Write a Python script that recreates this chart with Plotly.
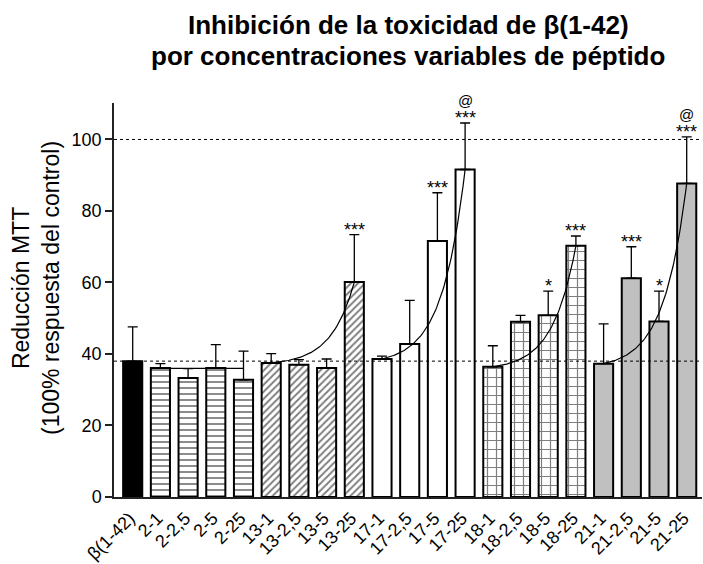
import numpy as np
import plotly.graph_objects as go

# ---------------- data ----------------
categories = ["β(1-42)", "2-1", "2-2,5", "2-5", "2-25",
              "13-1", "13-2,5", "13-5", "13-25",
              "17-1", "17-2,5", "17-5", "17-25",
              "18-1", "18-2,5", "18-5", "18-25",
              "21-1", "21-2,5", "21-5", "21-25"]
means = [38.0, 36.1, 33.3, 36.1, 32.8,
         37.5, 37.0, 36.1, 60.1,
         38.6, 42.8, 71.6, 91.6,
         36.4, 49.0, 50.8, 70.3,
         37.3, 61.2, 49.1, 87.7]
sd = [9.6, 1.2, 2.6, 6.5, 8.0,
      2.6, 1.4, 2.5, 13.3,
      0.8, 12.2, 13.5, 13.0,
      5.9, 1.8, 6.8, 2.7,
      11.1, 8.8, 8.5, 13.0]
sig_stars = ["", "", "", "", "",
             "", "", "", "***",
             "", "", "***", "***",
             "", "", "*", "***",
             "", "***", "*", "***"]
sig_at = ["", "", "", "", "",
          "", "", "", "",
          "", "", "", "@",
          "", "", "", "",
          "", "", "", "@"]
# groups: (name, first index, last index)
groups = [("β", 0, 0), ("2", 1, 4), ("13", 5, 8), ("17", 9, 12), ("18", 13, 16), ("21", 17, 20)]
# fitted trend curves per peptide group: start value, end value
fit_groups = ["2", "13", "17", "18", "21"]
fit_start = [36.0, 37.5, 38.6, 36.4, 37.3]
fit_end = [36.0, 60.1, 91.6, 70.3, 87.7]
ref_lines = [100, 38.0]
y_ticks = [0, 20, 40, 60, 80, 100]

# ---------------- styles ----------------
FONT = "Liberation Sans, Arial, Helvetica, sans-serif"
styles = {
    "β": dict(color="black", pattern=dict(shape="")),
    "2": dict(color="white", pattern=dict(shape="-", size=6, solidity=0.3, fgcolor="black", bgcolor="white", fillmode="overlay")),
    "13": dict(color="white", pattern=dict(shape="/", size=5, solidity=0.4, fgcolor="black", bgcolor="white", fillmode="overlay")),
    "17": dict(color="white", pattern=dict(shape="")),
    "18": dict(color="white", pattern=dict(shape="+", size=9, solidity=0.25, fgcolor="black", bgcolor="white", fillmode="overlay")),
    "21": dict(color="#c0c0c0", pattern=dict(shape="")),
}

fig = go.Figure()
xpos = list(range(len(categories)))

for name, a, b in groups:
    idx = list(range(a, b + 1))
    st = styles[name]
    fig.add_trace(go.Bar(
        x=[xpos[i] for i in idx],
        y=[means[i] for i in idx],
        width=0.69,
        marker=dict(color=st["color"], pattern=st["pattern"],
                    line=dict(color="black", width=2)),
        error_y=dict(type="data", symmetric=False,
                     array=[sd[i] for i in idx],
                     arrayminus=[0] * len(idx),
                     color="black", thickness=1.3, width=5),
        showlegend=False, hoverinfo="skip",
    ))

# trend curves
k = 1.2
for gname, y0, y1 in zip(fit_groups, fit_start, fit_end):
    a, b = [(g[1], g[2]) for g in groups if g[0] == gname][0]
    t = np.linspace(0, b - a, 80)
    frac = (np.exp(k * t) - 1) / (np.exp(k * (b - a)) - 1)
    fig.add_trace(go.Scatter(
        x=a + t, y=y0 + (y1 - y0) * frac, mode="lines",
        line=dict(color="black", width=1.2),
        showlegend=False, hoverinfo="skip",
    ))

# reference dotted lines
for yv in ref_lines:
    fig.add_shape(type="line", xref="paper", x0=0, x1=1, yref="y", y0=yv, y1=yv,
                  line=dict(color="black", width=1, dash="dot"), layer="above")

# significance labels
for i in range(len(categories)):
    top = means[i] + sd[i]
    if sig_stars[i]:
        fig.add_annotation(x=xpos[i], y=top, text=sig_stars[i], showarrow=False,
                           yanchor="bottom", yshift=-7,
                           font=dict(family=FONT, size=18, color="black"))
    if sig_at[i]:
        fig.add_annotation(x=xpos[i], y=top, text=sig_at[i], showarrow=False,
                           yanchor="bottom", yshift=12,
                           font=dict(family=FONT, size=15, color="black"))

# title (two lines)
fig.add_annotation(xref="paper", yref="paper", x=0.5, y=1, yshift=78, yanchor="middle",
                   text="<b>Inhibición de la toxicidad de β(1-42)</b>", showarrow=False,
                   font=dict(family=FONT, size=26, color="black"))
fig.add_annotation(xref="paper", yref="paper", x=0.5, y=1, yshift=47, yanchor="middle",
                   text="<b>por concentraciones variables de péptido</b>", showarrow=False,
                   font=dict(family=FONT, size=26, color="black"))

# y axis title
fig.add_annotation(xref="paper", yref="paper", x=-0.133, y=0.53, textangle=-90,
                   xanchor="center", yanchor="middle",
                   text="Reducción MTT<br>(100% respuesta del control)", showarrow=False,
                   font=dict(family=FONT, size=23, color="black"))

fig.update_layout(
    width=703, height=564,
    margin=dict(l=114, r=1, t=103, b=67, autoexpand=False),
    paper_bgcolor="white", plot_bgcolor="white",
    barmode="overlay",
    font=dict(family=FONT, color="black"),
    xaxis=dict(range=[-0.675, 20.552], tickmode="array", tickvals=xpos, ticktext=categories,
               tickangle=-45, ticks="", showgrid=False, zeroline=False, automargin=False,
               showline=True, linecolor="#222", linewidth=1.5,
               ticklabelstandoff=2, ticklabelshift=-3,
               tickfont=dict(family=FONT, size=18, color="black")),
    yaxis=dict(range=[0, 110.2], tickmode="array", tickvals=y_ticks, automargin=False,
               ticks="outside", ticklen=7, tickwidth=1.5, tickcolor="#222",
               showgrid=False, zeroline=False,
               showline=True, linecolor="#222", linewidth=1.5,
               tickfont=dict(family=FONT, size=18, color="black")),
)

fig.write_html("out.html", config={"displayModeBar": False},
               post_script="document.body.style.margin='0';")
